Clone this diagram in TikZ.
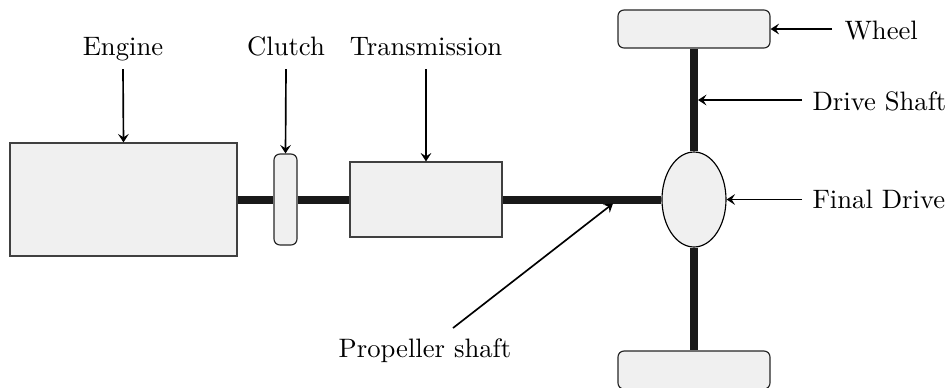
\documentclass[tikz,border=0pt]{standalone}
\usetikzlibrary{shapes.geometric,arrows.meta}
\newdimen\pxu
\pxu=0.39pt
\begin{document}
\begin{tikzpicture}[x=0.39pt,y=-0.39pt,
  part/.style={draw=black!75,fill=black!6,line width=0.45pt,inner sep=0pt},
  roundpart/.style={part,draw=black!85,rounded corners=6\pxu},
  shaft/.style={line width=8\pxu,draw=black!90},
  arr/.style={-{Stealth[length=3.3pt,width=4.2pt,inset=1.3pt]},line width=0.65pt},
  lbl/.style={inner sep=0pt,font=\fontsize{10.4}{12.5}\selectfont}]
  \useasboundingbox (0,0) rectangle (949,387);
  \clip (0,0) rectangle (949,387);

  % drivetrain parts
  \node[part,minimum width=227\pxu,minimum height=113\pxu] (engine) at (123.5,199.5) {};
  \node[roundpart,minimum width=23\pxu,minimum height=91\pxu] (clutch) at (285.5,199.5) {};
  \node[part,minimum width=152\pxu,minimum height=75\pxu] (trans) at (426,199.5) {};
  \node[part,draw=black,ellipse,minimum width=64\pxu,minimum height=95\pxu] (final) at (694,199.5) {};
  \node[roundpart,minimum width=152\pxu,minimum height=38\pxu] (topwheel) at (694,29) {};
  \node[roundpart,minimum width=152\pxu,minimum height=38\pxu] (botwheel) at (694,370) {};

  % shafts between the parts
  \draw[shaft] (engine.east) -- (clutch.west);
  \draw[shaft] (clutch.east) -- (trans.west);
  \draw[shaft] (trans.east) -- (final.west);
  \draw[shaft] (topwheel.south) -- (final.north);
  \draw[shaft] (final.south) -- (botwheel.north);

  % labels
  \node[lbl,anchor=base] (englbl) at (123,55) {Engine};
  \node[lbl,anchor=base] (clulbl) at (286,55) {Clutch};
  \node[lbl,anchor=base] (trlbl) at (426,55) {Transmission};
  \node[lbl,anchor=base west] (whlbl) at (844,39) {Wheel};
  \node[lbl,anchor=base west] (dslbl) at (812,110) {Drive Shaft};
  \node[lbl,anchor=base west] (fdlbl) at (812,208) {Final Drive};
  \node[lbl,anchor=base] (pslbl) at (425,357) {Propeller shaft};

  % arrow end points
  \coordinate (whstart) at (832,29);
  \coordinate (dsstart) at (802,100);
  \coordinate (dsend) at (698,100);
  \coordinate (fdstart) at (802,199.5);
  \coordinate (psstart) at (453,328);
  \coordinate (psend) at (613,203.5);

  % pointer arrows
  \draw[arr] (englbl.south |- 0,69) -- (engine.north);
  \draw[arr] (clulbl.south |- 0,69) -- (clutch.north);
  \draw[arr] (trlbl.south |- 0,69) -- (trans.north);
  \draw[arr] (whstart) -- (topwheel.east);
  \draw[arr] (dsstart) -- (dsend);
  \draw[arr] (fdstart) -- (final.east);
  \draw[arr] (psstart) -- (psend);
\end{tikzpicture}
\end{document}
